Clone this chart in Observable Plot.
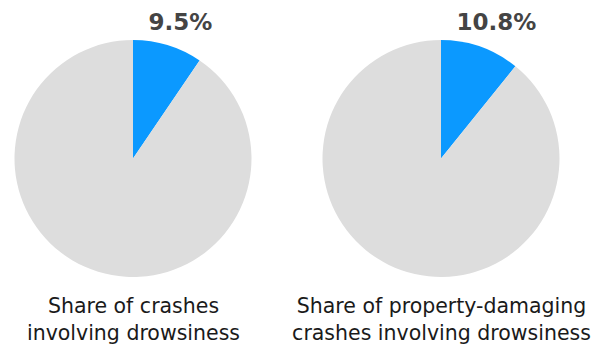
<!DOCTYPE html>
<html><head><meta charset="utf-8">
<script src="https://cdn.jsdelivr.net/npm/d3@7"></script>
<script src="https://cdn.jsdelivr.net/npm/@observablehq/plot@0.6"></script>
<style>html,body{margin:0;padding:0;background:#fff;}</style>
</head><body><div id="chart"></div>
<script>
const titles = ["Share of crashes\ninvolving drowsiness", "Share of property-damaging\ncrashes involving drowsiness"];
const shares = [9.5, 10.8];
const shareLabels = ["9.5%", "10.8%"];
const sliceNames = ["Drowsiness", "Other"];
const sliceColors = ["#0b99ff", "#dddddd"];

const charts = titles.map((t, i) => ({title: t, share: shares[i], label: shareLabels[i]}));
const slices = charts.flatMap(c => {
  const arcs = d3.pie().sort(null)([c.share, 100 - c.share]);
  return arcs.map((a, j) => ({title: c.title, name: sliceNames[j], startAngle: a.startAngle, endAngle: a.endAngle}));
});
const colorOf = new Map(sliceNames.map((n, i) => [n, sliceColors[i]]));

const R = 118.5;
function pies(index, scales, values, dimensions) {
  const {marginTop, marginBottom, height} = dimensions;
  const cy = marginTop + (height - marginTop - marginBottom) / 2;
  const arc = d3.arc().innerRadius(0).outerRadius(R);
  const g = d3.create("svg:g");
  for (const s of slices) {
    g.append("path")
      .attr("transform", `translate(${scales.x(s.title)},${cy})`)
      .attr("d", arc(s))
      .attr("fill", colorOf.get(s.name));
  }
  return g.node();
}

const chart = Plot.plot({
  width: 593,
  height: 345,
  marginTop: 40,
  marginBottom: 68,
  marginLeft: 0,
  marginRight: 0,
  x: {type: "point", domain: titles, range: [132.5, 440.5], padding: 0, axis: null},
  y: {axis: null},
  style: {fontFamily: "'DejaVu Sans', sans-serif", background: "#fff"},
  marks: [
    pies,
    Plot.text(charts, {x: "title", text: "label", frameAnchor: "top", lineAnchor: "top", dy: -27, dx: 15, textAnchor: "start", fontSize: 23, fontWeight: "bold", fill: "#444"}),
    Plot.text(charts, {x: "title", text: "title", frameAnchor: "bottom", lineAnchor: "top", dy: 17, fontSize: 20.5, lineHeight: 1.3, fill: "#1a1a1a"})
  ]
});
document.getElementById("chart").append(chart);
</script>
</body></html>
